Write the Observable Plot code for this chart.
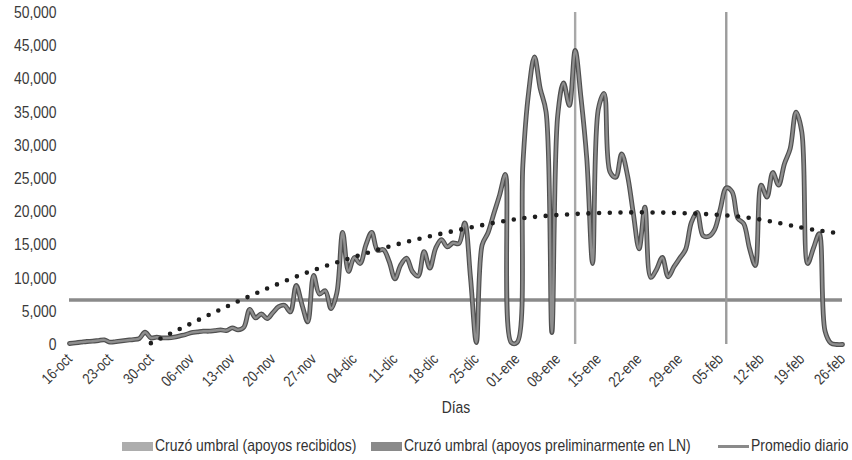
<!DOCTYPE html>
<html>
<head>
<meta charset="utf-8">
<script src="https://cdn.jsdelivr.net/npm/d3@7"></script>
<script src="https://cdn.jsdelivr.net/npm/@observablehq/plot@0.6"></script>
<style>
  body { margin: 0; background: #fff; }
  #chart { width: 852px; height: 460px; position: relative; overflow: hidden;
    font-family: "Liberation Sans", Arial, sans-serif; }
  .legend { position: absolute; top: 435px; left: 0; width: 852px; height: 22px; font-size: 17px; color: #333; }
  .item { position: absolute; top: 0; height: 22px; display: flex; align-items: center; white-space: nowrap; }
  .sw { display: inline-block; width: 31px; height: 9px; margin-right: 2px; flex: none; }
  .ln { display: inline-block; width: 31px; height: 3px; margin-right: 2px; flex: none; }
  .nar { display: inline-block; transform: scaleX(0.82); transform-origin: 0 50%; }
</style>
</head>
<body>
<div id="chart"></div>
<script>
// ---- data ----
const startDate = "2017-10-16";
// daily supports, one value per day from 16-oct
const dailySupports = [
  150, 250, 350, 450, 500, 600, 700, 350, 450, 550,
  650, 750, 900, 1850, 1000, 1100, 1000, 1000, 1100, 1300,
  1500, 1800, 1900, 2000, 2000, 2100, 2200, 2100, 2500, 2200,
  2600, 5300, 4000, 4600, 3900, 4800, 5700, 5900, 4900, 8900,
  6000, 3400, 10400, 7600, 8100, 5400, 7800, 16900, 11000, 13100,
  12200, 15000, 16900, 14200, 14300, 12500, 9900, 12000, 13000, 11000,
  10300, 14000, 11500, 14500, 15800, 14700, 15300, 15200, 18300, 10000,
  300, 15000, 16800, 19700, 22500, 25600, 300, 300, 27000, 38000,
  43300, 38500, 35000, 1800, 34500, 39400, 36000, 44300, 37200, 28000,
  12200, 35500, 37800, 26000, 25200, 28700, 25500, 19800, 14400, 20700,
  10100, 11300, 13100, 10200, 11700, 13000, 14300, 18400, 19900, 16400,
  16300, 17300, 20500, 23600, 23000, 19000, 18200, 14500, 11900, 24000,
  22200, 25900, 24000, 27200, 29500, 35000, 32000, 12200, 14500, 16700,
  2000, 200, 0, 0
];
// dotted trend line (day offset, value)
const trendDays   = [14, 21, 28, 35, 42, 49, 56, 63, 70, 77, 84, 91, 98, 105, 112, 119, 126, 132];
const trendValues = [200, 3200, 6100, 8800, 11200, 13200, 15000, 16500, 17800, 18900, 19500, 19800, 19900, 19800, 19500, 18800, 17600, 16800];
// threshold crossings (day offset)
const crossDays   = [87, 113];
const crossNames  = ["Cruzó umbral (apoyos recibidos)", "Cruzó umbral (apoyos preliminarmente en LN)"];
const promedioDiario = 6700;
const tickLabels = ["16-oct","23-oct","30-oct","06-nov","13-nov","20-nov","27-nov","04-dic","11-dic","18-dic",
                    "25-dic","01-ene","08-ene","15-ene","22-ene","29-ene","05-feb","12-feb","19-feb","26-feb"];
const yTicks = [0, 5000, 10000, 15000, 20000, 25000, 30000, 35000, 40000, 45000, 50000];

// ---- build ----
const start = new Date(startDate + "T00:00:00Z");
const dayToDate = d => d3.utcDay.offset(start, d);
const series = dailySupports.map((v, i) => ({date: dayToDate(i), value: v}));
const trend = trendDays.map((d, i) => ({date: dayToDate(d), value: trendValues[i]}));
const crossings = crossDays.map((d, i) => ({date: dayToDate(d), name: crossNames[i]}));
const endDate = dayToDate(dailySupports.length - 1);
const tickDates = tickLabels.map((_, i) => dayToDate(i * 7));

const chart = Plot.plot({
  width: 852,
  height: 430,
  marginLeft: 69,
  marginRight: 10,
  marginTop: 12,
  marginBottom: 86,
  style: {fontFamily: '"Liberation Sans", Arial, sans-serif', background: "white", color: "#3a3a3a", overflow: "visible"},
  x: {type: "utc", domain: [start, endDate]},
  y: {domain: [0, 50000]},
  marks: [
    Plot.axisY({ticks: yTicks, tickFormat: d3.format(","), tickSize: 0, tickPadding: 13, fontSize: 17, label: null}),
    Plot.axisX({ticks: tickDates, tickFormat: (d, i) => tickLabels[i], tickRotate: -45, tickSize: 0, tickPadding: 12, fontSize: 15.5, label: null}),
    Plot.text(["Días"], {frameAnchor: "bottom", dy: 68, fontSize: 17, fill: "#333"}),
    Plot.ruleY([promedioDiario], {x1: start, x2: endDate, stroke: "#8a8a8a", strokeWidth: 3.5}),
    Plot.ruleX(crossings, {x: "date", y1: 0, y2: 50000, stroke: (d, i) => i === 0 ? "#a8a8a8" : "#9c9c9c", strokeWidth: 2.4}),
    Plot.line(series, {x: "date", y: "value", curve: "catmull-rom", stroke: "#505050", strokeWidth: 4.8, strokeLinejoin: "round", strokeLinecap: "round"}),
    Plot.line(series, {x: "date", y: "value", curve: "catmull-rom", stroke: "#8e8e8e", strokeWidth: 2.4, strokeLinejoin: "round", strokeLinecap: "round"}),
    Plot.line(trend, {x: "date", y: "value", curve: "natural", stroke: "#1e1e1e", strokeWidth: 4.6, strokeDasharray: "0 10.7", strokeLinecap: "round"})
  ]
});

// narrow (condensed) look for all svg texts: horizontal squeeze about each text's anchor
chart.querySelectorAll("text").forEach(t => {
  const xs = parseFloat(t.getAttribute("x"));
  const x = Number.isFinite(xs) ? xs : 0;
  const tr = t.getAttribute("transform") || "";
  t.setAttribute("transform", `${tr} translate(${x},0) scale(0.82,1) translate(${-x},0)`.trim());
});

const host = document.getElementById("chart");
host.appendChild(chart);

const legend = document.createElement("div");
legend.className = "legend";
legend.innerHTML = `
  <div class="item" style="left:122px"><span class="sw" style="background:#adadad"></span><span class="nar">${crossNames[0]}</span></div>
  <div class="item" style="left:371px"><span class="sw" style="background:#8a8a8a"></span><span class="nar">${crossNames[1]}</span></div>
  <div class="item" style="left:718px"><span class="ln" style="background:#8a8a8a"></span><span class="nar">Promedio diario</span></div>`;
host.appendChild(legend);
</script>
</body>
</html>
